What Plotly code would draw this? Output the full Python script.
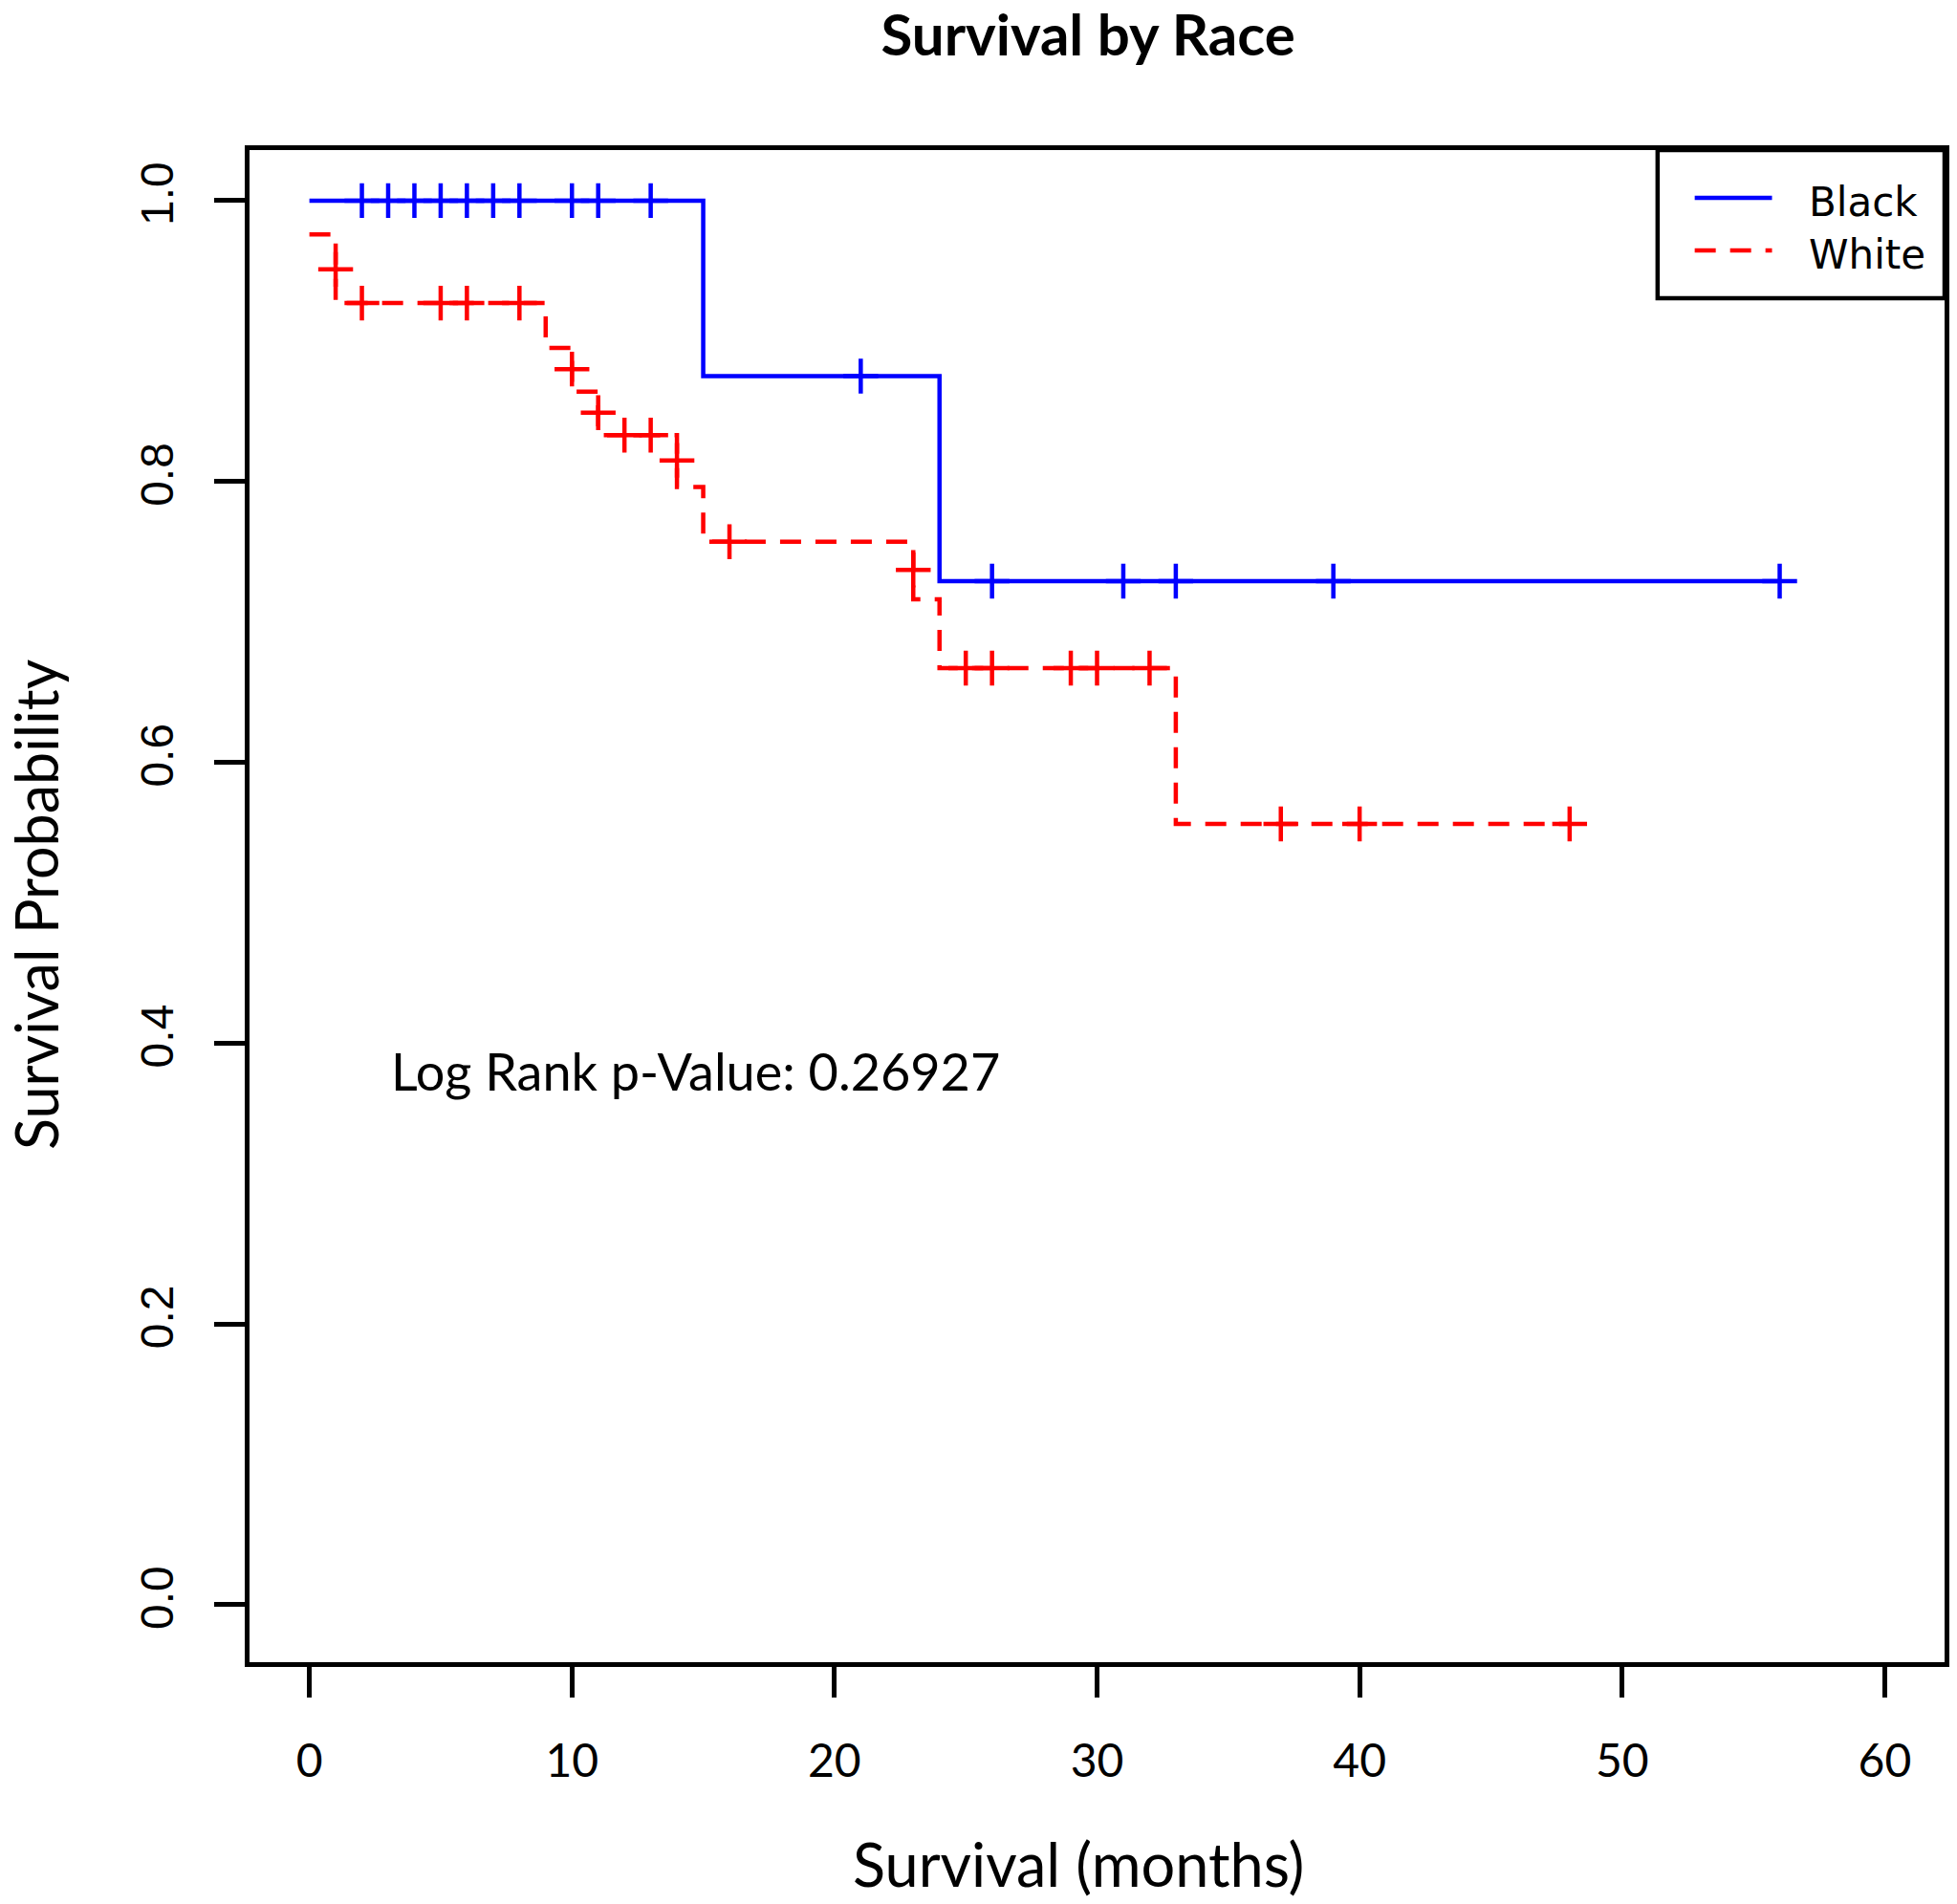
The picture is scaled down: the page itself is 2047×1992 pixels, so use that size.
import plotly.graph_objects as go

# Kaplan-Meier steps (months, survival)
black_t = [0, 15, 24, 56]
black_s = [1.0, 0.875, 0.729, 0.729]
black_cens_t = [2, 3, 4, 5, 6, 7, 8, 10, 11, 13, 21, 26, 31, 33, 39, 56]
black_cens_s = [1.0] * 10 + [0.875] + [0.729] * 5

white_t = [0, 1, 1, 9, 10, 10, 11, 11, 14, 14, 15, 23, 23, 24, 33, 48]
white_s = [0.976, 0.951, 0.927, 0.895, 0.880, 0.864, 0.849, 0.833,
           0.815, 0.796, 0.757, 0.737, 0.716, 0.667, 0.556, 0.556]
white_cens_t = [1, 2, 5, 6, 8, 10, 11, 12, 13, 14, 16, 23,
                25, 26, 29, 30, 32, 37, 40, 48]
white_cens_s = [0.951, 0.927, 0.927, 0.927, 0.927, 0.880, 0.849, 0.833,
                0.833, 0.815, 0.757, 0.737, 0.667, 0.667, 0.667, 0.667,
                0.667, 0.556, 0.556, 0.556]

x_ticks = [0, 10, 20, 30, 40, 50, 60]
y_ticks = [0.0, 0.2, 0.4, 0.6, 0.8, 1.0]

BLUE = "#0000ff"
RED = "#ff0000"
FONT = "Lato, Carlito, sans-serif"
LW = 4.5

fig = go.Figure()

fig.add_trace(go.Scatter(
    x=black_t, y=black_s, mode="lines", line_shape="hv",
    line=dict(color=BLUE, width=LW), name="Black", showlegend=False
))
fig.add_trace(go.Scatter(
    x=white_t, y=white_s, mode="lines", line_shape="hv",
    line=dict(color=RED, width=LW, dash="22px,15px"), name="White",
    showlegend=False
))
fig.add_trace(go.Scatter(
    x=black_cens_t, y=black_cens_s, mode="markers",
    marker=dict(symbol="cross-thin", size=26,
                line=dict(color=BLUE, width=LW)),
    showlegend=False, hoverinfo="x+y"
))
fig.add_trace(go.Scatter(
    x=white_cens_t, y=white_cens_s, mode="markers",
    marker=dict(symbol="cross-thin", size=26,
                line=dict(color=RED, width=LW)),
    showlegend=False, hoverinfo="x+y"
))

# legend box drawn like R's legend("topright")
fig.add_shape(type="rect", xref="paper", yref="paper",
              x0=0.8307, x1=1.0, y0=0.902, y1=1.0,
              line=dict(color="black", width=LW), fillcolor="white",
              layer="above")
fig.add_shape(type="line", xref="paper", yref="paper",
              x0=0.8526, x1=0.8982, y0=0.9684, y1=0.9684,
              line=dict(color=BLUE, width=LW))
fig.add_shape(type="line", xref="paper", yref="paper",
              x0=0.8526, x1=0.8982, y0=0.9336, y1=0.9336,
              line=dict(color=RED, width=LW, dash="22px,15px"))
for label, yy in [("Black", 0.9654), ("White", 0.9306)]:
    fig.add_annotation(text=label, xref="paper", yref="paper",
                       x=0.9185, y=yy, xanchor="left", yanchor="middle",
                       showarrow=False,
                       font=dict(family="DejaVu Sans", size=42,
                                 color="black"))

fig.add_annotation(text="Log Rank p-Value: 0.26927", x=14.7, y=0.38,
                   xref="x", yref="y", showarrow=False,
                   font=dict(family=FONT, size=54, color="black"))

# axis titles placed like R's mtext
fig.add_annotation(text="Survival (months)", xref="paper", yref="paper",
                   x=0.489, y=-0.133, xanchor="center", yanchor="middle",
                   showarrow=False,
                   font=dict(family=FONT, size=63, color="black"))
fig.add_annotation(text="Survival Probability", xref="paper", yref="paper",
                   x=-0.126, y=0.501, xanchor="center", yanchor="middle",
                   textangle=-90, showarrow=False,
                   font=dict(family=FONT, size=61, color="black"))

fig.update_layout(
    width=2047, height=1992,
    margin=dict(l=261, r=8, t=157, b=253),
    paper_bgcolor="white", plot_bgcolor="white",
    title=dict(text="<b>Survival by Race</b>", x=0.556, xanchor="center",
               y=0.9815, yanchor="middle", yref="container",
               font=dict(family=FONT, size=60, color="black")),
    xaxis=dict(
        range=[-2.28, 62.28], tickvals=x_ticks,
        showline=True, mirror=True, linecolor="black", linewidth=LW,
        ticks="outside", ticklen=32, tickwidth=LW, tickcolor="black",
        ticklabelstandoff=26,
        showgrid=False, zeroline=False,
        tickfont=dict(family=FONT, size=48, color="black"),
    ),
    yaxis=dict(
        range=[-0.041, 1.036], tickvals=y_ticks, tickformat=".1f",
        tickangle=-90,
        showline=True, mirror=True, linecolor="black", linewidth=LW,
        ticks="outside", ticklen=32, tickwidth=LW, tickcolor="black",
        ticklabelstandoff=24,
        showgrid=False, zeroline=False,
        tickfont=dict(family="Liberation Sans, Arial", size=48,
                      color="black"),
    ),
)

fig.write_html(
    "out.html",
    config={"displayModeBar": False},
    post_script="document.body.style.margin='0';"
                "document.body.style.overflow='hidden';"
)
